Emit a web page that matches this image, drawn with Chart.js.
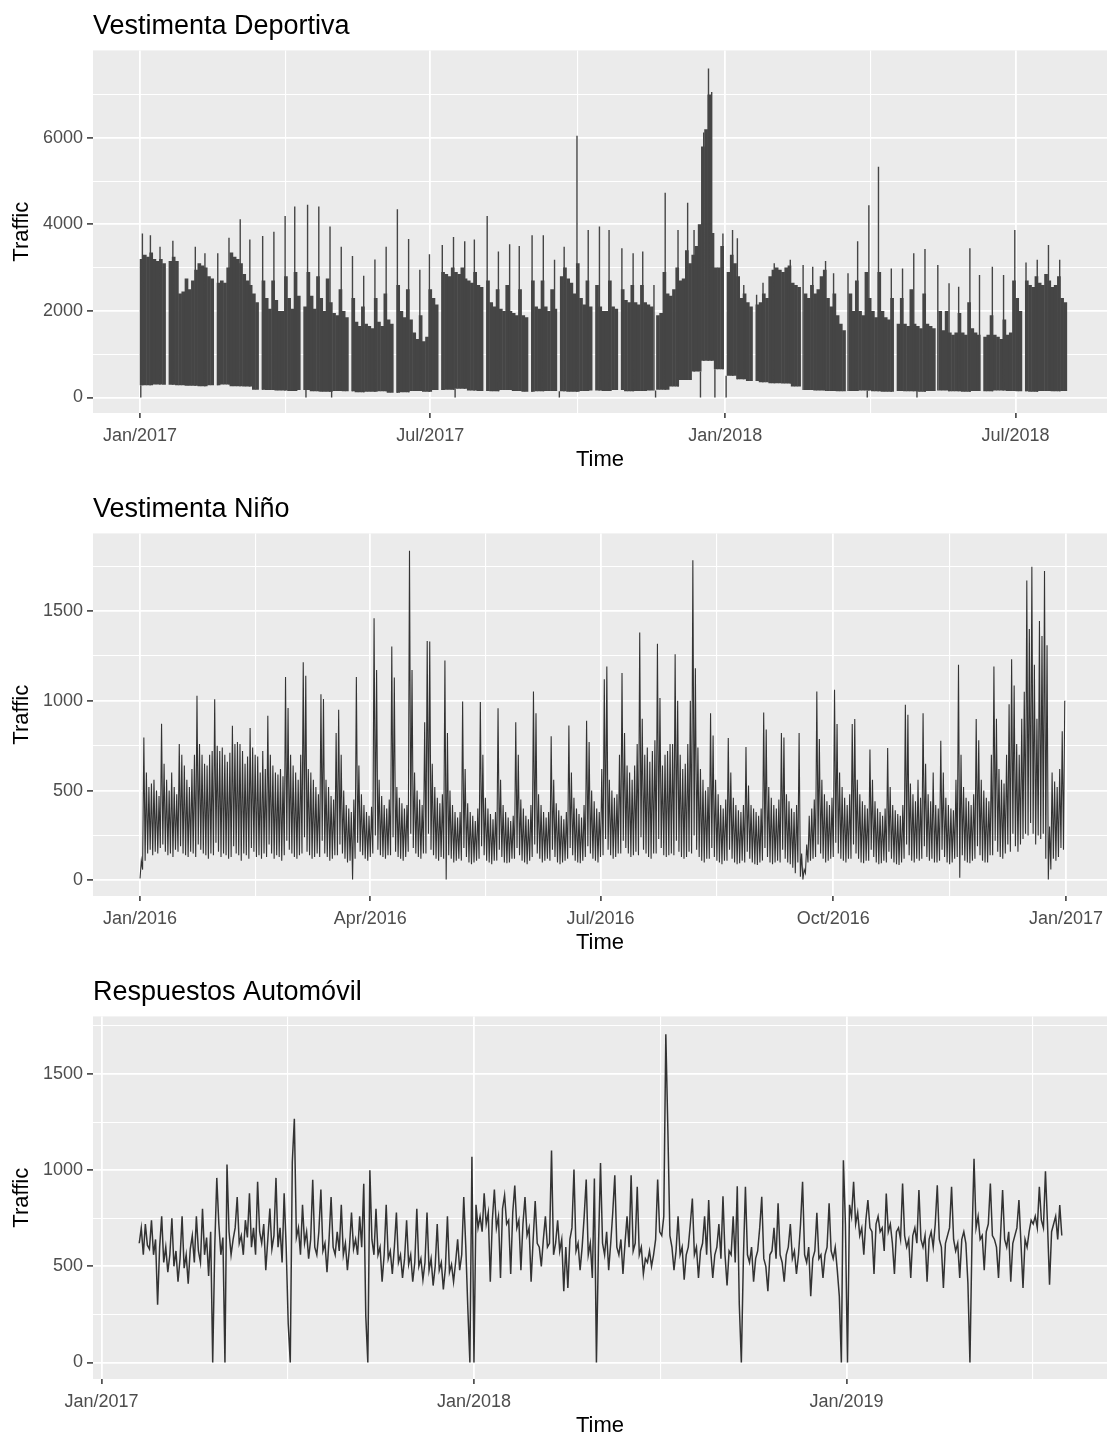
<!DOCTYPE html>
<html lang="es">
<head>
<meta charset="UTF-8">
<title>Traffic por categoría</title>
<script src="https://cdn.jsdelivr.net/npm/chart.js"></script>
<style>
  body { margin: 0; background: #fff; overflow: hidden; }
  .panel { position: absolute; left: 0; width: 1107px; height: 483px; }
  canvas { display: block; }
</style>
</head>
<body>
<div class="panel" style="top:0"><canvas id="chart1" width="1107" height="483"></canvas></div>
<div class="panel" style="top:483px"><canvas id="chart2" width="1107" height="483"></canvas></div>
<div class="panel" style="top:966px"><canvas id="chart3" width="1107" height="483"></canvas></div>

<script>
Chart.defaults.font.family = "'Liberation Sans', Arial, Helvetica, sans-serif";

// ---------- Vestimenta Deportiva (x = days since 1 Jan 2017) ----------
// top of the hourly traffic band, one value per 2-day bin (null = hole in the series)
const deportivaHigh = [
  3200, 3300, 3250, 3350, 3200, 3150, 3200, 3100, null, 3150,
  3250, 3150, 2400, 2450, 2750, 2500, 2700, 2950, 3100, 3050,
  3000, 2800, 2750, null, 2650, 2700, 2650, 3000, 3350, 3250,
  3200, 3100, 2850, 2700, 2600, 2400, 2200, null, 2700, 2300,
  2050, 2700, 2250, 2000, 2000, 2800, 2300, 2050, 2900, 2350,
  null, 2100, 2900, 2350, 2050, 2800, 2300, 2000, 2750, 2200,
  1950, 1900, 2500, 2000, 1850, null, 2300, 1750, 1650, 2100,
  1700, 1650, 1600, 2300, 1750, 1650, 2400, 1800, 1700, null,
  2600, 2000, 1850, 2500, 1800, 1500, 1350, 1900, 1300, 1400,
  2500, 2300, 2150, null, 2900, 2850, 2800, 3000, 2900, 2850,
  3000, 2750, 2700, 2650, 2900, 2600, 2550, null, 2700, 2200,
  2100, 2500, 2050, 2000, 2600, 2000, 1950, 1900, 2500, 1900,
  1850, null, 2700, 2100, 2050, 2700, 2100, 2000, 2500, 2050,
  null, 2800, 3000, 2750, 2650, 2400, 3100, 2300, 2150, 2700,
  2100, null, 2600, 2100, 2000, 2000, 2700, 2100, 2050, null,
  2500, 2250, 2200, 2600, 2200, 2150, 2600, 2200, 2150, 2100,
  null, 1900, 1950, 2900, 2400, 2350, 2500, 3000, 2700, 2750,
  3400, 3100, 3300, 3500, 4000, 5800, 6200, 7000, 3800, 3000,
  3000, 3500, null, 2900, 3300, 3100, 2800, 2300, 2400, 2200,
  2100, null, 2150, 2200, 2400, 2300, 2800, 2950, 3000, 2950,
  2900, 3000, 3050, 2650, 2600, 2550, null, 2400, 2300, 2600,
  2400, 2500, 2800, 2950, 2300, 2100, 2400, 1900, 1700, 1550,
  null, 2400, 2000, 2700, 2000, 1900, 2900, 2300, 2000, 1850,
  2900, 2000, 1850, 1800, 2300, null, 1700, 2300, 1700, 1650,
  2500, 1700, 1650, 1600, 2400, 1700, 1650, 1600, null, 2000,
  1550, 2000, 1500, 1450, 1500, 1950, 1500, 1450, 2200, 1600,
  1500, 1450, null, 1400, 1450, 1900, 1450, 1400, 1350, 1800,
  1450, 1500, 2700, 2300, 2000, null, 2700, 2600, 2550, 2800,
  2650, 2600, 2850, 2700, 2550, 2600, 2800, 2300, 2200
];
// floor of the band, one value per week
const deportivaLow = [
  280, 300, 290, 280, 270, 260, 280, 300, 260, 250,
  180, 170, 160, 150, 170, 140, 130, 150, 140, 120, 130, 140, 110, 120, 150, 130,
  170, 180, 200, 160, 150, 140, 170, 150, 130, 140, 150, 140, 130, 150, 160, 150, 170, 140, 150, 160,
  180, 250, 400, 600, 850, 650, 500, 420, 380, 350, 330, 320, 250,
  170, 160, 150, 140, 150, 160, 140, 130, 150, 140, 130, 150, 160, 140, 130, 150, 140, 160, 150, 140, 130, 150, 140, 150
];
// single-day peaks and drops that stand out of the band
const deportivaSpikeDays = [
  0, 1, 6, 12, 20, 34, 40, 48, 55, 62,
  68, 76, 83, 90, 96, 103, 104, 111, 118, 119,
  125, 132, 139, 146, 153, 160, 167, 174, 180, 188,
  195, 196, 202, 208, 216, 223, 230, 236, 244, 251,
  258, 261, 264, 272, 279, 286, 292, 300, 307, 313,
  320, 321, 327, 335, 341, 345, 349, 351, 354, 356,
  358, 363, 365, 369, 372, 376, 384, 388, 395, 405,
  413, 419, 427, 432, 441, 447, 453, 454, 460, 468,
  475, 482, 484, 489, 497, 504, 510, 517, 523, 531,
  538, 545, 552, 559, 566, 573
];
const deportivaSpikeVals = [
  0, 3790, 3750, 3480, 3620, 3480, 3330, 3330, 3690, 4120,
  3650, 3730, 3830, 4190, 4410, 0, 4450, 4410, 3950, 0,
  3480, 3270, 2810, 3190, 3480, 4350, 3660, 2950, 3310, 3520,
  3710, 0, 3610, 3650, 4190, 3370, 3540, 3500, 3750, 3750,
  3180, 0, 3480, 6045, 3870, 3950, 3870, 3450, 3330, 3370,
  2600, 0, 4730, 3870, 4500, 3870, 0, 6120, 7600, 7060,
  0, 3790, 0, 3870, 3680, 2600, 2370, 2650, 3100, 3180,
  3060, 3020, 3150, 2870, 2870, 3610, 0, 4440, 5330, 2980,
  2980, 3330, 0, 3430, 3060, 2640, 2560, 3450, 2830, 3020,
  2830, 3870, 3120, 3180, 3520, 3180
];
const deportivaTickDays = [0, 181, 365, 546];
const deportivaTickLabels = ['Jan/2017', 'Jul/2017', 'Jan/2018', 'Jul/2018'];
const deportivaMinorDays = [90.5, 273, 455.5];
const deportivaYTicks = [0, 2000, 4000, 6000];
const deportivaYMinor = [1000, 3000, 5000, 7000];

// ---------- Vestimenta Niño (x = days since 1 Jan 2016) ----------
// daily maximum, day 0 then one row per week
const ninoHigh = [
  110,
  796, 600, 520, 540, 560, 500, 470,
  872, 650, 560, 500, 600, 520, 480,
  760, 700, 640, 560, 520, 620, 700,
  1028, 760, 700, 650, 640, 700, 720,
  1009, 750, 720, 740, 700, 660, 710,
  861, 760, 770, 760, 720, 650, 690,
  848, 740, 700, 690, 600, 720, 620,
  917, 700, 640, 600, 590, 620, 580,
  1132, 960, 700, 640, 600, 560, 700,
  1215, 1139, 620, 600, 560, 520, 480,
  1037, 1010, 560, 520, 470, 450, 820,
  950, 700, 500, 420, 400, 380, 450,
  1132, 640, 480, 420, 380, 360, 410,
  1459, 1172, 560, 470, 420, 400, 450,
  1302, 1130, 520, 460, 430, 400, 420,
  1835, 1172, 600, 500, 450, 420, 880,
  1333, 1330, 650, 520, 460, 430, 480,
  1224, 820, 500, 420, 380, 350, 380,
  996, 620, 430, 380, 360, 330, 400,
  993, 700, 460, 400, 370, 340, 380,
  959, 560, 420, 380, 350, 330, 360,
  881, 700, 450, 400, 360, 340, 420,
  1052, 931, 480, 420, 380, 350, 380,
  802, 560, 430, 390, 360, 340, 380,
  863, 600, 460, 400, 370, 350, 420,
  889, 770, 500, 440, 400, 380, 620,
  1120, 1191, 560, 500, 460, 480, 700,
  1154, 820, 640, 600, 560, 640, 760,
  1380, 900, 700, 740, 660, 720, 780,
  1317, 1015, 640, 700, 720, 760, 760,
  1259, 1000, 700, 620, 650, 760, 1000,
  1783, 1181, 740, 620, 560, 500, 520,
  931, 807, 560, 480, 420, 400, 450,
  793, 600, 460, 420, 390, 380, 420,
  743, 528, 420, 400, 380, 360, 400,
  935, 840, 520, 460, 420, 400, 450,
  820, 796, 480, 440, 400, 380, 420,
  820, 150, 60, 200, 360, 400, 450,
  1052, 787, 560, 480, 440, 420, 460,
  1061, 870, 600, 520, 460, 420, 480,
  870, 898, 560, 480, 440, 420, 400,
  728, 560, 440, 400, 380, 360, 400,
  737, 520, 420, 390, 370, 360, 420,
  978, 922, 540, 480, 440, 560, 460,
  931, 650, 480, 440, 600, 420, 400,
  778, 600, 460, 420, 400, 390, 560,
  1200, 700, 520, 460, 440, 420, 480,
  898, 780, 560, 500, 460, 440, 700,
  1191, 900, 620, 560, 540, 700, 980,
  1231, 1085, 760, 700, 900, 1050, 1670,
  1400, 1746, 1200, 900, 1444, 1361, 1722,
  1309, 300, 600, 550, 520, 620, 830,
  1000
];
// daily minimum, same layout
const ninoLow = [
  10,
  60, 110, 150, 170, 140, 160, 150,
  180, 200, 160, 140, 150, 130, 170,
  160, 190, 150, 140, 130, 160, 150,
  130, 200, 170, 150, 140, 120, 150,
  140, 210, 160, 130, 150, 140, 120,
  130, 190, 150, 140, 110, 150, 140,
  120, 180, 160, 130, 140, 120, 150,
  130, 200, 150, 120, 140, 130, 110,
  140, 220, 170, 150, 130, 120, 140,
  150, 240, 160, 140, 120, 130, 150,
  130, 220, 150, 130, 110, 120, 140,
  140, 200, 150, 120, 100, 110, 5,
  120, 210, 160, 140, 120, 110, 130,
  150, 250, 170, 140, 130, 120, 140,
  140, 240, 160, 130, 120, 110, 130,
  160, 260, 180, 150, 130, 120, 150,
  150, 260, 170, 140, 120, 110, 130,
  120, 5, 140, 120, 100, 110, 120,
  110, 180, 130, 100, 90, 100, 110,
  120, 190, 140, 110, 100, 90, 110,
  110, 170, 130, 100, 95, 100, 120,
  120, 180, 140, 110, 100, 90, 110,
  130, 200, 150, 120, 100, 110, 120,
  110, 170, 130, 100, 90, 100, 110,
  120, 180, 140, 110, 100, 95, 110,
  130, 190, 150, 120, 110, 100, 130,
  140, 230, 170, 140, 120, 130, 150,
  150, 220, 180, 150, 130, 140, 160,
  140, 240, 170, 150, 130, 120, 150,
  150, 230, 180, 140, 130, 140, 150,
  140, 220, 160, 130, 120, 130, 160,
  150, 250, 170, 130, 110, 100, 120,
  120, 180, 130, 110, 100, 90, 110,
  110, 170, 120, 100, 90, 95, 110,
  100, 160, 120, 100, 90, 85, 100,
  110, 180, 130, 100, 90, 100, 110,
  100, 170, 120, 100, 90, 70, 40,
  100, 20, 5, 40, 100, 110, 120,
  130, 200, 150, 120, 100, 110, 120,
  130, 210, 150, 120, 110, 100, 120,
  120, 200, 150, 120, 100, 95, 110,
  110, 170, 130, 100, 90, 95, 110,
  100, 160, 120, 100, 90, 85, 100,
  120, 200, 140, 110, 100, 120, 110,
  120, 190, 130, 110, 120, 100, 100,
  110, 170, 130, 100, 90, 100, 120,
  130, 15, 140, 110, 100, 95, 110,
  120, 190, 140, 110, 100, 100, 140,
  140, 220, 160, 130, 120, 150, 200,
  160, 260, 190, 160, 200, 230, 260,
  250, 320, 260, 200, 250, 230, 260,
  120, 5, 60, 120, 110, 130, 180,
  170
];
const ninoTickDays = [0, 91, 182, 274, 366];
const ninoTickLabels = ['Jan/2016', 'Apr/2016', 'Jul/2016', 'Oct/2016', 'Jan/2017'];
const ninoMinorDays = [45.5, 136.5, 228, 320];
const ninoYTicks = [0, 500, 1000, 1500];
const ninoYMinor = [250, 750, 1250, 1750];

// ---------- Respuestos Automóvil (x = days since 1 Jan 2017) ----------
// one reading every second day, starting on day 37
const automovilFirstDay = 37;
const automovilValues = [
  620, 700, 560, 720, 610, 590, 740, 560, 640, 300, 600, 760, 520, 600,
  470, 560, 750, 500, 580, 420, 540, 760, 490, 560, 410, 590, 660, 520,
  760, 580, 520, 800, 560, 650, 450, 680, 0, 600, 960, 720, 560, 650,
  0, 1030, 680, 560, 640, 700, 860, 620, 660, 560, 740, 650, 880, 600,
  700, 560, 940, 680, 620, 720, 480, 640, 800, 590, 660, 960, 600, 700,
  520, 880, 600, 200, 0, 1043, 1267, 650, 700, 560, 820, 620, 680, 540,
  640, 950, 600, 560, 680, 900, 580, 620, 470, 640, 860, 600, 560, 680,
  580, 820, 560, 620, 480, 600, 780, 590, 640, 560, 760, 600, 930, 240,
  0, 1000, 640, 560, 800, 560, 600, 420, 560, 820, 540, 580, 460, 600,
  780, 520, 560, 440, 540, 740, 510, 560, 420, 520, 800, 500, 540, 430,
  520, 780, 480, 540, 400, 500, 720, 480, 520, 380, 490, 760, 470, 510,
  420, 520, 640, 480, 560, 860, 600, 280, 0, 1070, 0, 820, 700, 760,
  680, 880, 720, 780, 420, 740, 900, 700, 760, 440, 800, 870, 720, 740,
  460, 780, 920, 700, 740, 480, 720, 860, 660, 700, 420, 640, 840, 620,
  600, 500, 640, 760, 600, 620, 1103, 560, 620, 740, 580, 640, 371, 600,
  388, 640, 700, 1003, 580, 620, 480, 600, 760, 952, 560, 620, 440, 957,
  0, 600, 1038, 620, 560, 680, 480, 620, 780, 974, 600, 560, 640, 460,
  620, 760, 600, 974, 580, 620, 914, 560, 600, 460, 540, 520, 580, 500,
  560, 640, 952, 680, 660, 760, 1707, 1210, 660, 600, 480, 580, 760, 560,
  600, 430, 560, 600, 720, 853, 560, 600, 440, 580, 620, 760, 560, 845,
  580, 440, 560, 600, 720, 540, 865, 560, 400, 580, 560, 760, 520, 917,
  300, 0, 540, 914, 560, 520, 600, 420, 540, 580, 700, 862, 540, 500,
  371, 560, 580, 700, 540, 828, 560, 520, 420, 560, 600, 720, 540, 580,
  460, 560, 720, 940, 560, 520, 600, 345, 540, 580, 779, 540, 560, 440,
  560, 600, 828, 580, 540, 600, 480, 345, 0, 1052, 720, 0, 820, 760,
  940, 720, 780, 660, 700, 560, 740, 845, 700, 680, 460, 720, 760, 680,
  700, 580, 879, 680, 720, 620, 460, 680, 700, 640, 931, 660, 600, 640,
  440, 660, 700, 620, 897, 640, 600, 660, 420, 640, 680, 600, 720, 922,
  640, 600, 388, 620, 660, 700, 914, 640, 580, 620, 440, 640, 680, 620,
  414, 0, 640, 1060, 700, 760, 640, 660, 480, 680, 720, 931, 660, 640,
  600, 440, 660, 897, 640, 600, 680, 420, 620, 660, 700, 845, 620, 388,
  640, 600, 680, 740, 720, 760, 700, 914, 740, 700, 995, 720, 405, 680,
  720, 760, 640, 819, 660
];
const automovilTickDays = [0, 365, 730];
const automovilTickLabels = ['Jan/2017', 'Jan/2018', 'Jan/2019'];
const automovilMinorDays = [182.5, 547.5, 912.5];
const automovilYTicks = [0, 500, 1000, 1500];
const automovilYMinor = [250, 750, 1250, 1750];

const LINE = '#454545';

// grey panel behind the grid, like ggplot's theme_gray
const panelBg = {
  id: 'panelBg',
  beforeDraw(chart) {
    const { ctx, chartArea: a } = chart;
    ctx.save();
    ctx.fillStyle = '#EBEBEB';
    ctx.fillRect(a.left, a.top, a.right - a.left, a.bottom - a.top);
    ctx.restore();
  }
};

function axis(major, minor, labels, min, max, isX) {
  const majorSet = new Set(major);
  const labelOf = new Map(major.map((v, i) => [v, labels ? labels[i] : String(v)]));
  const isMajor = c => c.tick && majorSet.has(c.tick.value);
  return {
    type: 'linear',
    min: min,
    max: max,
    offset: false,
    afterBuildTicks: s => {
      s.ticks = major.concat(minor).sort((a, b) => a - b).map(v => ({ value: v }));
    },
    afterFit: s => {
      if (isX) { s.height = 60; s.paddingLeft = 0; s.paddingRight = 0; }
      else { s.width = 93; }
    },
    ticks: {
      autoSkip: false,
      maxRotation: 0,
      padding: isX ? 7 : 4,
      color: '#4D4D4D',
      font: { size: 18 },
      callback: v => labelOf.get(v) || ''
    },
    grid: {
      offset: false,
      color: '#FFFFFF',
      lineWidth: c => isMajor(c) ? 1.8 : 1.1,
      tickLength: isX ? 5 : 6,
      tickWidth: 1.5,
      tickColor: c => isMajor(c) ? '#333333' : 'rgba(0,0,0,0)'
    },
    border: { display: false },
    title: {
      display: true,
      text: isX ? 'Time' : 'Traffic',
      color: '#000000',
      font: { size: 22 },
      padding: isX ? { top: 0, bottom: 0 } : { top: 9, bottom: 0 }
    }
  };
}

function makePanel(id, title, type, datasets, xAxis, yAxis) {
  return new Chart(document.getElementById(id), {
    type: type,
    data: { datasets: datasets },
    options: {
      responsive: false,
      animation: false,
      events: [],
      layout: { padding: { left: 0, right: 0, top: 0, bottom: 10 } },
      plugins: {
        legend: { display: false },
        tooltip: { enabled: false },
        title: {
          display: true,
          text: title,
          align: 'start',
          fullSize: false,
          color: '#000000',
          font: { size: 27, weight: 'normal' },
          padding: { top: 10, bottom: 8 }
        }
      },
      scales: { x: xAxis, y: yAxis }
    },
    plugins: [panelBg]
  });
}

// panel 1: band as floating bars, spikes as thin vertical segments
const deportivaBars = [];
deportivaHigh.forEach((h, i) => {
  if (h === null) return;
  deportivaBars.push({ x: 2 * i + 1, y: [deportivaLow[Math.floor(2 * i / 7)], h] });
});
const deportivaSpikes = [];
deportivaSpikeDays.forEach((d, i) => {
  const base = deportivaLow[Math.floor(d / 7)];
  deportivaSpikes.push({ x: d + 0.5, y: base }, { x: d + 0.5, y: deportivaSpikeVals[i] }, { x: d + 0.5, y: null });
});

makePanel('chart1', 'Vestimenta Deportiva', 'bar', [
  { type: 'line', data: deportivaSpikes, borderColor: LINE, borderWidth: 1.4, pointRadius: 0, spanGaps: false },
  { type: 'bar', data: deportivaBars, backgroundColor: LINE, borderWidth: 0, barPercentage: 1.15, categoryPercentage: 1 }
],
  axis(deportivaTickDays, deportivaMinorDays, deportivaTickLabels, -29.3, 603, true),
  axis(deportivaYTicks, deportivaYMinor, null, -360, 8020, false));

// panel 2: each day climbs from its low to its high and back
const ninoPoints = [];
ninoHigh.forEach((h, d) => {
  ninoPoints.push({ x: d, y: ninoLow[d] }, { x: d + 0.5, y: h });
});

makePanel('chart2', 'Vestimenta Niño', 'line', [
  { data: ninoPoints, borderColor: '#333333', borderWidth: 1.1, pointRadius: 0, tension: 0 }
],
  axis(ninoTickDays, ninoMinorDays, ninoTickLabels, -18.6, 382.2, true),
  axis(ninoYTicks, ninoYMinor, null, -87, 1932, false));

// panel 3: plain line
const automovilPoints = automovilValues.map((v, i) => ({ x: automovilFirstDay + 2 * i, y: v }));

makePanel('chart3', 'Respuestos Automóvil', 'line', [
  { data: automovilPoints, borderColor: '#333333', borderWidth: 1.5, pointRadius: 0, tension: 0 }
],
  axis(automovilTickDays, automovilMinorDays, automovilTickLabels, -8.3, 985.3, true),
  axis(automovilYTicks, automovilYMinor, null, -86, 1800, false));
</script>
</body>
</html>
